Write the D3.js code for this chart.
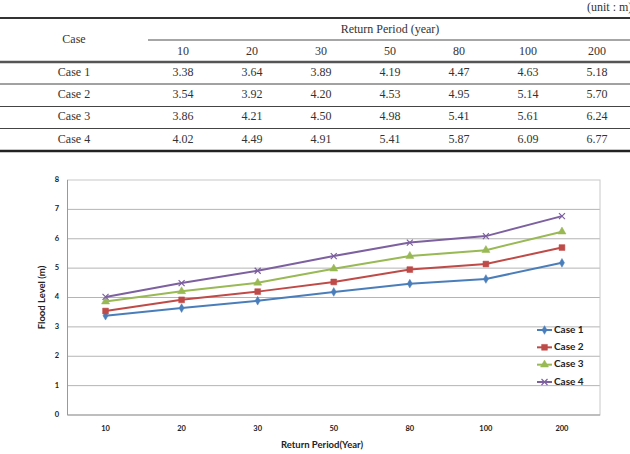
<!DOCTYPE html>
<html>
<head>
<meta charset="utf-8">
<script src="https://cdn.jsdelivr.net/npm/d3@7"></script>
<style>
body { margin: 0; background: #fff; }
svg { display: block; }
.tbl { font-family: "Liberation Serif", "Times New Roman", serif; font-size: 12px; fill: #333; }
.chart_txt { font-family: Lato, "Open Sans", sans-serif; font-weight: bold; fill: #222; }
</style>
</head>
<body>
<svg id="flood_chart" width="630" height="454"></svg>
<script>
var periods = ["10", "20", "30", "50", "80", "100", "200"];
var caseNames = ["Case 1", "Case 2", "Case 3", "Case 4"];
var case1 = [3.38, 3.64, 3.89, 4.19, 4.47, 4.63, 5.18];
var case2 = [3.54, 3.92, 4.20, 4.53, 4.95, 5.14, 5.70];
var case3 = [3.86, 4.21, 4.50, 4.98, 5.41, 5.61, 6.24];
var case4 = [4.02, 4.49, 4.91, 5.41, 5.87, 6.09, 6.77];
var yTicks = [0, 1, 2, 3, 4, 5, 6, 7, 8];

var series = [
    {name: caseNames[0], values: case1, color: "#4a7ebb", marker: "diamond"},
    {name: caseNames[1], values: case2, color: "#be4b48", marker: "square"},
    {name: caseNames[2], values: case3, color: "#98b954", marker: "triangle"},
    {name: caseNames[3], values: case4, color: "#7d60a0", marker: "cross"}
];

var svg = d3.select("#flood_chart");

// ---- table ----
var colScale = d3.scalePoint().domain(periods).range([183, 597]);
var caseX = 74;

svg.append("text").attr("class", "tbl").attr("x", 587).attr("y", 11).text("(unit : m)");

function hline(y, x1, x2, w, c) {
    svg.append("line").attr("x1", x1).attr("x2", x2).attr("y1", y).attr("y2", y)
        .attr("stroke", c).attr("stroke-width", w);
}
hline(18, 0, 630, 2, "#333");
hline(40, 148, 630, 1.5, "#888");
hline(62, 0, 630, 2.5, "#555");
hline(84, 0, 630, 1, "#444");
hline(106.5, 0, 630, 1, "#444");
hline(128.5, 0, 630, 1, "#444");
hline(151, 0, 630, 2.5, "#222");

svg.append("text").attr("class", "tbl").attr("x", caseX).attr("y", 40)
    .attr("text-anchor", "middle").attr("dominant-baseline", "middle").text("Case");
svg.append("text").attr("class", "tbl").attr("x", 390).attr("y", 30)
    .attr("text-anchor", "middle").attr("dominant-baseline", "middle").text("Return Period (year)");
svg.selectAll("text.yr").data(periods).enter().append("text")
    .attr("class", "tbl yr")
    .attr("x", d => colScale(d)).attr("y", 52)
    .attr("text-anchor", "middle").attr("dominant-baseline", "middle")
    .text(d => d);

var rowY = d3.scalePoint().domain(caseNames).range([73, 140]);
var rows = svg.selectAll("g.row").data(series).enter().append("g").attr("class", "row");
rows.append("text").attr("class", "tbl")
    .attr("x", caseX).attr("y", d => rowY(d.name))
    .attr("text-anchor", "middle").attr("dominant-baseline", "middle")
    .text(d => d.name);
rows.each(function(s) {
    d3.select(this).selectAll("text.val").data(s.values).enter().append("text")
        .attr("class", "tbl val")
        .attr("x", (d, i) => colScale(periods[i])).attr("y", rowY(s.name))
        .attr("text-anchor", "middle").attr("dominant-baseline", "middle")
        .text(d => d.toFixed(2));
});

// ---- chart ----
const plot = {left: 67.5, right: 600, top: 180, bottom: 415};
var x = d3.scaleBand().domain(periods).range([plot.left, plot.right]);
var y = d3.scaleLinear().domain([0, 8]).range([plot.bottom, plot.top]);

var grid = svg.append("g");
grid.selectAll("line").data(yTicks.slice(1, -1)).enter().append("line")
    .attr("x1", plot.left).attr("x2", plot.right)
    .attr("y1", d => y(d)).attr("y2", d => y(d))
    .attr("stroke", "#b4b4b4").attr("stroke-width", 1);
svg.append("rect").attr("x", plot.left).attr("y", plot.top)
    .attr("width", plot.right - plot.left).attr("height", plot.bottom - plot.top)
    .attr("fill", "none").attr("stroke", "#c8c8c8").attr("stroke-width", 1);
svg.append("line").attr("x1", plot.left).attr("x2", plot.left)
    .attr("y1", plot.top).attr("y2", plot.bottom).attr("stroke", "#999");
svg.append("line").attr("x1", plot.left).attr("x2", plot.right)
    .attr("y1", plot.bottom).attr("y2", plot.bottom).attr("stroke", "#999");

svg.append("g").selectAll("text").data(yTicks).enter().append("text")
    .attr("class", "chart_txt").attr("font-size", 7.5)
    .attr("x", 57).attr("y", d => y(d))
    .attr("text-anchor", "middle").attr("dominant-baseline", "middle")
    .text(d => d);
svg.append("g").selectAll("text").data(periods).enter().append("text")
    .attr("class", "chart_txt").attr("font-size", 7.5)
    .attr("x", d => x(d) + x.bandwidth() / 2).attr("y", 429)
    .attr("text-anchor", "middle").attr("dominant-baseline", "middle")
    .text(d => d);

svg.append("text").attr("class", "chart_txt").attr("font-size", 9.5)
    .attr("transform", "translate(43," + ((plot.top + plot.bottom) / 2) + ") rotate(-90)")
    .attr("text-anchor", "middle").attr("dominant-baseline", "middle")
    .text("Flood Level (m)");
svg.append("text").attr("class", "chart_txt").attr("font-size", 9.5)
    .attr("x", 322).attr("y", 446)
    .attr("text-anchor", "middle").attr("dominant-baseline", "middle")
    .text("Return Period(Year)");

function markerPath(type) {
    if (type == "diamond") return d3.symbol().type(d3.symbolDiamond).size(22)();
    if (type == "square") return d3.symbol().type(d3.symbolSquare).size(34)();
    if (type == "triangle") return d3.symbol().type(d3.symbolTriangle).size(28)();
    return "M-3,-3L3,3M-3,3L3,-3";
}

var line = d3.line()
    .x((d, i) => x(periods[i]) + x.bandwidth() / 2)
    .y(d => y(d));

var gSeries = svg.append("g");
series.forEach(function(s) {
    gSeries.append("path")
        .attr("fill", "none").attr("stroke", s.color).attr("stroke-width", 2)
        .attr("d", line(s.values));
    gSeries.selectAll(null).data(s.values).enter().append("path")
        .attr("transform", (d, i) => "translate(" + (x(periods[i]) + x.bandwidth() / 2) + "," + y(d) + ")")
        .attr("d", markerPath(s.marker))
        .attr("fill", s.marker == "cross" ? "none" : s.color)
        .attr("stroke", s.color).attr("stroke-width", s.marker == "cross" ? 1.2 : 0.5);
});

// legend
var legendY = d3.scalePoint().domain(caseNames).range([330, 382]);
var legend = svg.append("g").selectAll("g").data(series).enter().append("g")
    .attr("transform", d => "translate(0," + legendY(d.name) + ")");
legend.append("line").attr("x1", 537).attr("x2", 552).attr("y1", 0).attr("y2", 0)
    .attr("stroke", d => d.color).attr("stroke-width", 2);
legend.append("path").attr("transform", "translate(544.5,0)")
    .attr("d", d => markerPath(d.marker))
    .attr("fill", d => d.marker == "cross" ? "none" : d.color)
    .attr("stroke", d => d.color).attr("stroke-width", d => d.marker == "cross" ? 1.2 : 0.5);
legend.append("text").attr("class", "chart_txt").attr("font-size", 10)
    .attr("x", 554).attr("y", 0).attr("dominant-baseline", "middle")
    .text(d => d.name);
</script>
</body>
</html>
